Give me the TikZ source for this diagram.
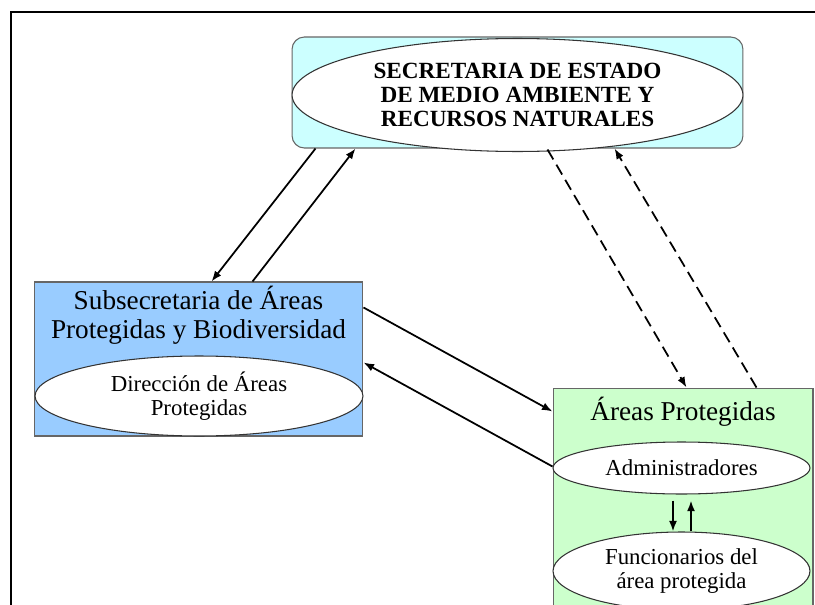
\documentclass[tikz,border=0pt]{standalone}
\usepackage{fontspec}
\setmainfont{Liberation Serif}
\usetikzlibrary{shapes.geometric,arrows.meta,positioning,calc}

\definecolor{celeste}{HTML}{CCFFFF}
\definecolor{azul}{HTML}{99CCFF}
\definecolor{verde}{HTML}{CCFFCC}

\tikzset{
  caja/.style={draw=gray!80!black, line width=0.6pt, inner sep=0pt},
  elipse/.style={ellipse, draw=gray!40!black, fill=white, line width=0.6pt, inner sep=0pt, align=center, font=\fontsize{13}{13.5}\selectfont},
  titulo/.style={align=center, inner sep=0pt, font=\fontsize{15.5}{16.3}\selectfont},
  flecha/.style={line width=1pt, -{Latex[length=6pt,width=4.5pt]}},
  flechapunt/.style={flecha, dash pattern=on 6.5pt off 3.5pt},
}

\begin{document}
\begin{tikzpicture}[x=0.02cm, y=-0.02cm]
        \useasboundingbox (0,0) rectangle (815,605);
        \clip (0,0) rectangle (815,605);
        \fill[white] (0,0) rectangle (815,605);
        \draw[line width=1.4pt] (11,620) -- (11,12) -- (830,12);

        \node[caja, fill=celeste, rounded corners=7pt, minimum width=9.02cm, minimum height=2.22cm] (sec) at (517.5,92.5) {};
        \node[elipse, minimum width=9.02cm, minimum height=2.26cm, font=\fontsize{13.2}{13.8}\selectfont\bfseries] (secel) at (517.5,95) {SECRETARIA DE ESTADO\\DE MEDIO AMBIENTE Y\\RECURSOS NATURALES};

        \node[caja, fill=azul, minimum width=6.58cm, minimum height=3.08cm] (sub) at (198.5,359) {};
        \node[titulo] (subtit) at (198.5,315) {Subsecretaria de Áreas\\Protegidas y Biodiversidad};
        \node[elipse, minimum width=6.56cm, minimum height=1.6cm] (dir) at (199,396) {Dirección de Áreas\\Protegidas};

        \node[caja, fill=verde, minimum width=5.2cm, minimum height=5.04cm] (areas) at (683,514) {};
        \node[titulo] (areastit) at (683,412) {Áreas Protegidas};
        \node[elipse, minimum width=5.14cm, minimum height=1.04cm] (adm) at (681.5,468) {Administradores};
        \node[elipse, minimum width=5.14cm, minimum height=1.56cm] (fun) at (681.5,571) {Funcionarios del\\área protegida};

        \draw[flecha] ([shift={(24,0)}]sec.south west) -- ([shift={(178,0)}]sub.north west);
        \draw[flecha] ([shift={(219,0)}]sub.north west) -- ([shift={(64,0)}]sec.south west);

        \draw[flechapunt] ([shift={(256,1)}]sec.south west) -- ([shift={(134,0)}]areas.north west);
        \draw[flechapunt] ([shift={(204,0)}]areas.north west) -- ([shift={(323,0)}]sec.south west);

        \draw[flecha] ([shift={(0,26)}]sub.north east) -- ([shift={(0,24)}]areas.north west);
        \draw[flecha] ([shift={(0,79)}]areas.north west) -- ([shift={(0,81)}]sub.north east);

        \draw[flecha] ([shift={(-8.5,6)}]adm.south) -- ([shift={(-8.5,0)}]fun.north);
        \draw[flecha] ([shift={(9.5,0)}]fun.north) -- ([shift={(9.5,6)}]adm.south);
\end{tikzpicture}
\end{document}
